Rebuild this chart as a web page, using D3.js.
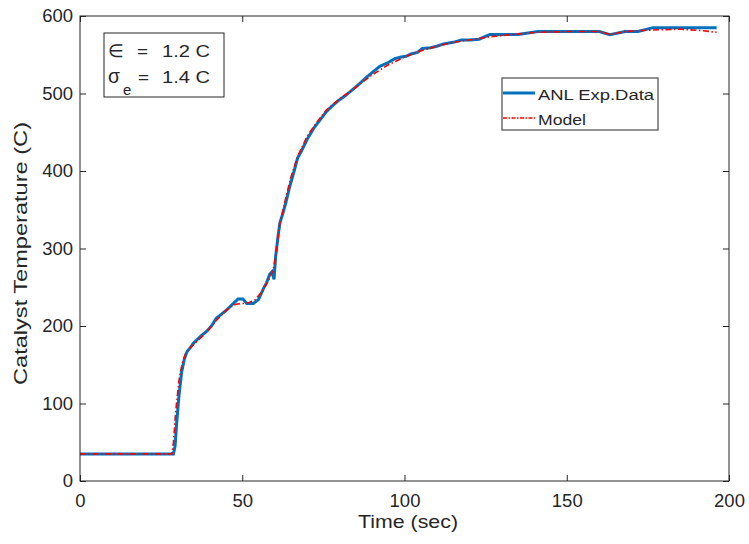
<!DOCTYPE html>
<html>
<head>
<meta charset="utf-8">
<script src="https://cdn.jsdelivr.net/npm/d3@7"></script>
<style>
  body { margin: 0; background: #fff; }
  svg text { font-family: "Liberation Sans", Arial, sans-serif; fill: #262626; }
</style>
</head>
<body>
<svg id="chart" width="749" height="544"></svg>
<script>
// measured data (ANL)
const expTime = [0, 28.8, 29.3, 29.8, 30.5, 31.3, 32.2, 33, 34, 35, 36, 37.5, 39, 40.5, 42, 43.5, 45, 46.5, 48, 48.7, 50.2, 51.4, 53.4, 55, 56.5, 57.5, 58.5, 59.2, 59.8, 60.3, 61.1, 61.6, 62.5, 63.5, 64.5, 66, 67, 68.5, 70, 72, 74, 76, 78, 80, 82, 84, 86, 88, 90, 92.4, 95, 97, 99, 100.5, 102, 104, 105.5, 108, 110, 112, 115, 117.6, 120, 123, 126.3, 130, 135, 141.1, 145, 150, 155, 160, 163.3, 168, 172, 176.6, 185, 196.2];
const expTemp = [35, 35, 45, 75, 110, 140, 158, 167, 172, 178, 182, 188, 193, 200, 210, 215, 220, 226, 232, 235, 235, 229, 229, 234, 248, 256, 267, 270, 260, 290, 318, 333, 345, 360, 378, 400, 416, 428, 441, 455, 466, 477, 485, 492, 498, 505, 512, 520, 527, 535, 540, 545, 547, 548, 551, 553, 558, 559, 561, 564, 566, 569, 569, 570, 576, 576, 576, 580, 580, 580, 580, 580, 576, 580, 580, 585, 585, 585];

// model
const modelTime = [0, 28.3, 28.8, 29.5, 30.5, 31.5, 32.5, 34, 36, 38, 40, 42, 44, 46, 48, 50, 52, 54, 56, 58, 59.5, 60.5, 61.5, 63, 65, 67, 70, 73, 76, 80, 85, 90, 95, 100, 105, 110, 115, 120, 126, 133, 141, 150, 160, 163.5, 168, 176.6, 185, 192, 196.2];
const modelTemp = [35, 35, 50, 90, 130, 152, 164, 172, 180, 188, 197, 207, 216, 224, 228, 229, 230, 234, 244, 258, 272, 295, 330, 358, 392, 418, 445, 463, 479, 493, 508, 524, 537, 547, 555, 561, 566, 569, 573, 576, 579, 580, 580, 576, 580, 582, 583, 581, 579];

const xTicks = [0, 50, 100, 150, 200];
const yTicks = [0, 100, 200, 300, 400, 500, 600];

const svg = d3.select('#chart');
const margin = {left: 80, top: 16, right: 20, bottom: 63};
const W = 749, H = 544;
const x = d3.scaleLinear().domain([0, 200]).range([margin.left, W - margin.right]);
const y = d3.scaleLinear().domain([0, 600]).range([H - margin.bottom, margin.top]);
const axisColor = '#262626';

// lines
const line = d3.line().x(d => x(d[0])).y(d => y(d[1]));
svg.append('path')
    .datum(expTime.map((t, i) => [t, expTemp[i]]))
    .attr('d', line)
    .attr('fill', 'none')
    .attr('stroke', '#0072BD')
    .attr('stroke-width', 3);
svg.append('path')
    .datum(modelTime.map((t, i) => [t, modelTemp[i]]))
    .attr('d', line)
    .attr('fill', 'none')
    .attr('stroke', '#FF0000')
    .attr('stroke-width', 1.6)
    .attr('stroke-dasharray', '6,2.5,1.5,2.5');

// axes with inward ticks, mirrored on the box
function styleAxis(g) {
    g.select('.domain').remove();
    g.selectAll('line').attr('stroke', axisColor);
    g.selectAll('text').style('font-size', '18.5px').attr('fill', axisColor);
}
svg.append('g')
    .attr('transform', `translate(0,${y(0)})`)
    .call(d3.axisBottom(x).tickValues(xTicks).tickSize(-6).tickPadding(13))
    .call(styleAxis);
svg.append('g')
    .attr('transform', `translate(0,${y(600)})`)
    .call(d3.axisTop(x).tickValues(xTicks).tickSize(-6).tickFormat(''))
    .call(styleAxis);
svg.append('g')
    .attr('transform', `translate(${x(0)},0)`)
    .call(d3.axisLeft(y).tickValues(yTicks).tickSize(-6).tickPadding(7))
    .call(styleAxis);
svg.append('g')
    .attr('transform', `translate(${x(200)},0)`)
    .call(d3.axisRight(y).tickValues(yTicks).tickSize(-6).tickFormat(''))
    .call(styleAxis);

svg.append('rect')
    .attr('x', x(0)).attr('y', y(600))
    .attr('width', x(200) - x(0)).attr('height', y(0) - y(600))
    .attr('fill', 'none').attr('stroke', axisColor).attr('stroke-width', 1);

// axis labels
svg.append('text')
    .attr('x', 358).attr('y', 528)
    .attr('textLength', 100).attr('lengthAdjust', 'spacingAndGlyphs')
    .style('font-size', '18.5px')
    .text('Time (sec)');
svg.append('text')
    .attr('transform', 'translate(27,385) rotate(-90)')
    .attr('textLength', 263).attr('lengthAdjust', 'spacingAndGlyphs')
    .style('font-size', '18.5px')
    .text('Catalyst Temperature (C)');

// annotation box
svg.append('rect')
    .attr('x', 104).attr('y', 33).attr('width', 120).attr('height', 64)
    .attr('fill', '#fff').attr('stroke', '#262626').attr('stroke-width', 1);
const ann = svg.append('g').style('font-size', '16px');
ann.append('text').attr('x', 108).attr('y', 57).attr('fill', '#000')
    .style('font-size', '18px').text('\u2208');
ann.append('text').attr('x', 137).attr('y', 57).attr('fill', '#000')
    .attr('textLength', 11).attr('lengthAdjust', 'spacingAndGlyphs').text('=');
ann.append('text').attr('x', 162).attr('y', 57).attr('fill', '#000')
    .attr('textLength', 48).attr('lengthAdjust', 'spacingAndGlyphs').text('1.2 C');
ann.append('text').attr('x', 108).attr('y', 83).attr('fill', '#000')
    .style('font-size', '20px')
    .attr('textLength', 12).attr('lengthAdjust', 'spacingAndGlyphs').text('\u03C3');
ann.append('text').attr('x', 123).attr('y', 95).attr('fill', '#000')
    .style('font-size', '15px').text('e');
ann.append('text').attr('x', 138).attr('y', 83).attr('fill', '#000')
    .attr('textLength', 11).attr('lengthAdjust', 'spacingAndGlyphs').text('=');
ann.append('text').attr('x', 162).attr('y', 83).attr('fill', '#000')
    .attr('textLength', 48).attr('lengthAdjust', 'spacingAndGlyphs').text('1.4 C');

// legend
const lg = svg.append('g');
lg.append('rect')
    .attr('x', 502).attr('y', 78).attr('width', 156).attr('height', 52)
    .attr('fill', '#fff').attr('stroke', '#262626').attr('stroke-width', 1);
const legendItems = [
    {label: 'ANL Exp.Data', len: 116, color: '#0072BD', width: 3, dash: null, cy: 93},
    {label: 'Model', len: 48, color: '#FF0000', width: 1.6, dash: '4,1.5,1.5,1.5', cy: 118}
];
legendItems.forEach(d => {
    lg.append('line')
        .attr('x1', 503).attr('x2', 535).attr('y1', d.cy).attr('y2', d.cy)
        .attr('stroke', d.color).attr('stroke-width', d.width)
        .attr('stroke-dasharray', d.dash);
    lg.append('text')
        .attr('x', 538).attr('y', d.cy + 6.5)
        .attr('textLength', d.len).attr('lengthAdjust', 'spacingAndGlyphs')
        .style('font-size', '15.5px').attr('fill', '#000')
        .text(d.label);
});
</script>
</body>
</html>
